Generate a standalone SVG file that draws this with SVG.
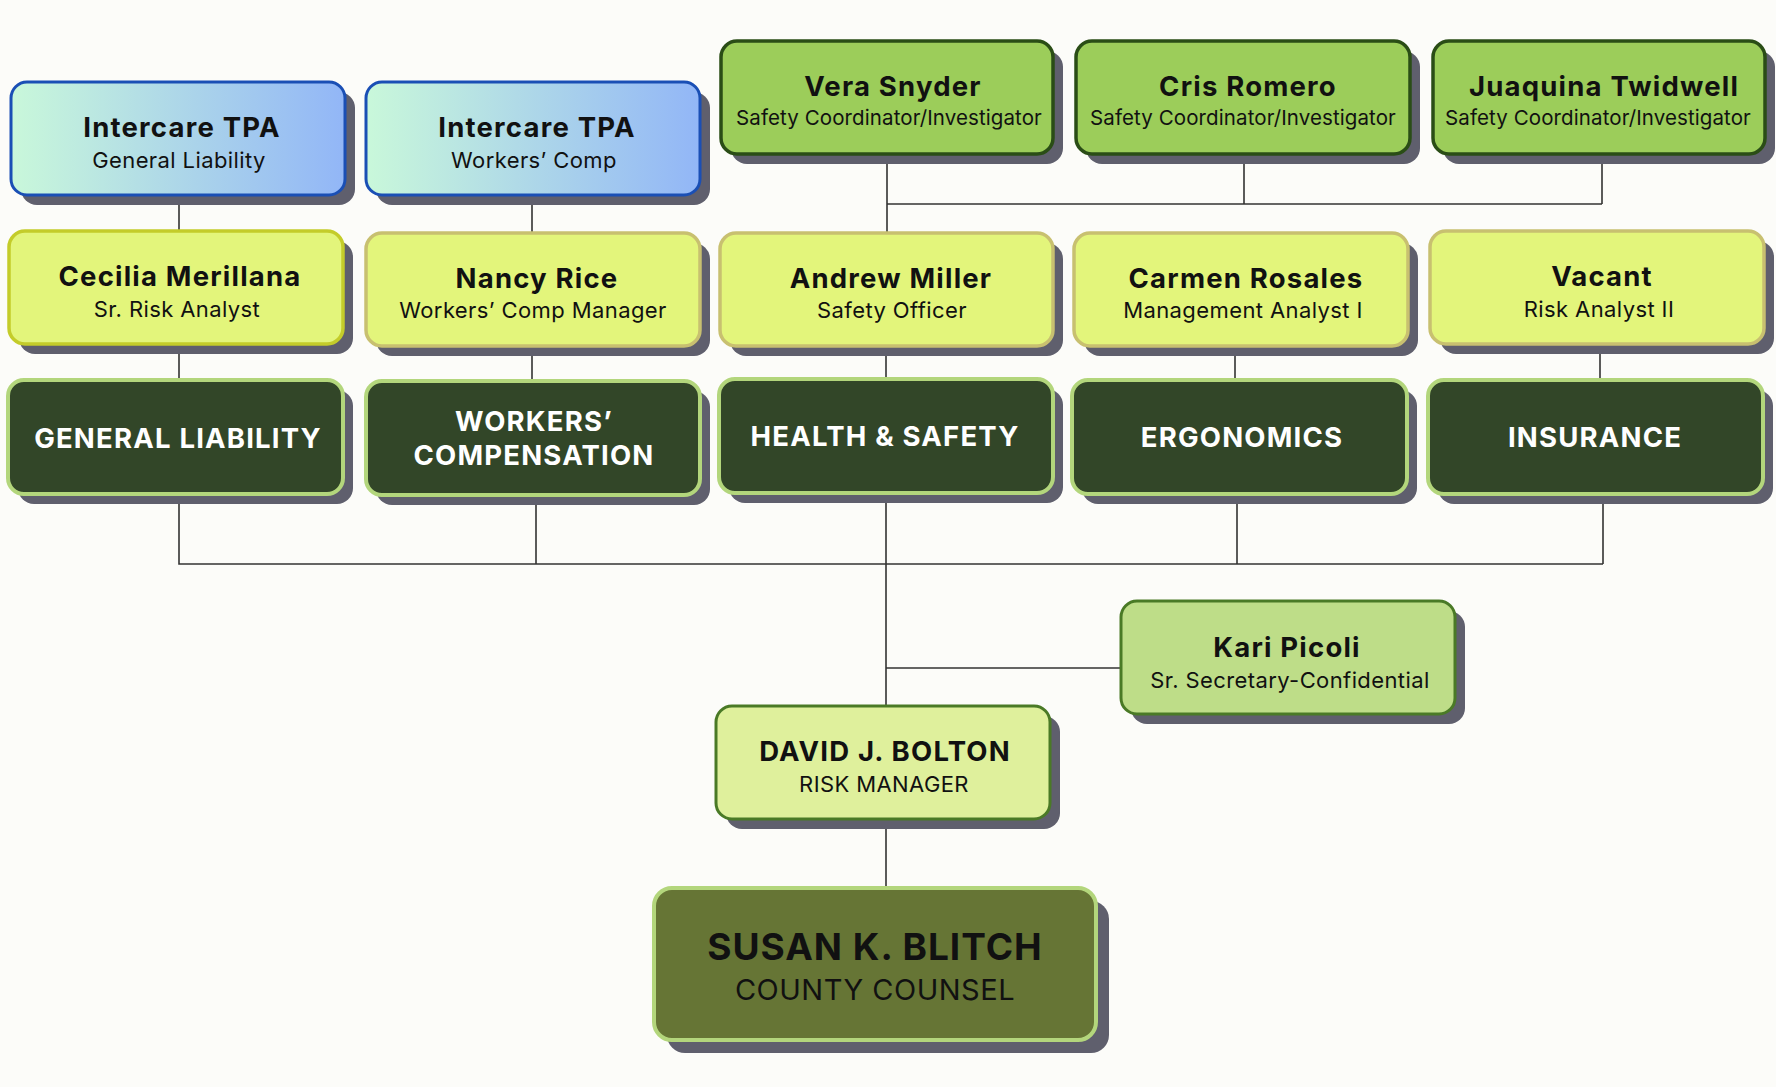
<svg xmlns="http://www.w3.org/2000/svg" width="1776" height="1087" viewBox="0 0 1776 1087">
<defs>
<linearGradient id="tpa" x1="0" y1="0" x2="1" y2="0">
<stop offset="0" stop-color="#c9f8da"/>
<stop offset="1" stop-color="#92b6f7"/>
</linearGradient>
<style>
.sh{fill:#5f5f6d}
.tpa{fill:url(#tpa);stroke:#1a4fb5;stroke-width:3}
.grn{fill:#9ccd5a;stroke:#2a4d16;stroke-width:3.5}
.yel{fill:#e3f57b;stroke:#c8c070;stroke-width:3.5}
.yel2{fill:#e3f57b;stroke:#c4cc2a;stroke-width:3.5}
.drk{fill:#324628;stroke:#b3d67c;stroke-width:4}
.kari{fill:#bedd88;stroke:#4a7a26;stroke-width:3}
.dav{fill:#dff09c;stroke:#4a7a26;stroke-width:3}
.sus{fill:#667535;stroke:#b3d67c;stroke-width:4}
text{font-family:Inter,"Noto Sans","Liberation Sans",sans-serif;text-anchor:middle;fill:#111}
.n{font-size:27.5px;font-weight:700;letter-spacing:1.2px}
.s{font-size:22px;font-weight:400;letter-spacing:0.4px}
.sc{font-size:20.5px;font-weight:400;letter-spacing:0.1px}
.d{font-size:27.5px;font-weight:700;fill:#fff;letter-spacing:1.2px}
.c{fill:none;stroke:#333;stroke-width:1.6}
</style>
</defs>
<rect width="1776" height="1087" fill="#fcfcf9"/>
<g id="connectors" class="c">
<path d="M179 195V231M532 195V233"/>
<path d="M887 154V233M887 204H1602M1244 154V204M1602 154V204"/>
<path d="M179 344V380M532 346V381M886 346V379M1235 346V380M1600 344V380"/>
<path d="M179 494V564H1603M536 495V564M1237 494V564M1603 494V564"/>
<path d="M886 493V706M886 668H1121M886 819V888"/>
</g>
<g id="tpa-gl"><rect class="sh" x="21" y="92" width="334" height="113" rx="16"/><rect class="tpa" x="11" y="82" width="334" height="113" rx="16"/><text class="n" x="182" y="137">Intercare TPA</text><text class="s" x="179" y="168">General Liability</text></g>
<g id="tpa-wc"><rect class="sh" x="376" y="92" width="334" height="113" rx="16"/><rect class="tpa" x="366" y="82" width="334" height="113" rx="16"/><text class="n" x="537" y="137">Intercare TPA</text><text class="s" x="534" y="168">Workers’ Comp</text></g>
<g id="vera"><rect class="sh" x="731" y="51" width="332" height="113" rx="16"/><rect class="grn" x="721" y="41" width="332" height="113" rx="16"/><text class="n" x="893" y="96">Vera Snyder</text><text class="sc" x="889" y="125">Safety Coordinator/Investigator</text></g>
<g id="cris"><rect class="sh" x="1086" y="51" width="334" height="113" rx="16"/><rect class="grn" x="1076" y="41" width="334" height="113" rx="16"/><text class="n" x="1248" y="96">Cris Romero</text><text class="sc" x="1243" y="125">Safety Coordinator/Investigator</text></g>
<g id="juaquina"><rect class="sh" x="1443" y="51" width="332" height="113" rx="16"/><rect class="grn" x="1433" y="41" width="332" height="113" rx="16"/><text class="n" x="1604" y="96">Juaquina Twidwell</text><text class="sc" x="1598" y="125">Safety Coordinator/Investigator</text></g>
<g id="cecilia"><rect class="sh" x="19" y="241" width="334" height="113" rx="16"/><rect class="yel2" x="9" y="231" width="334" height="113" rx="16"/><text class="n" x="180" y="286">Cecilia Merillana</text><text class="s" x="177" y="317">Sr. Risk Analyst</text></g>
<g id="nancy"><rect class="sh" x="376" y="243" width="334" height="113" rx="16"/><rect class="yel" x="366" y="233" width="334" height="113" rx="16"/><text class="n" x="537" y="288">Nancy Rice</text><text class="s" x="533" y="318">Workers’ Comp Manager</text></g>
<g id="andrew"><rect class="sh" x="730" y="243" width="333" height="113" rx="16"/><rect class="yel" x="720" y="233" width="333" height="113" rx="16"/><text class="n" x="891" y="288">Andrew Miller</text><text class="s" x="892" y="318">Safety Officer</text></g>
<g id="carmen"><rect class="sh" x="1084" y="243" width="334" height="113" rx="16"/><rect class="yel" x="1074" y="233" width="334" height="113" rx="16"/><text class="n" x="1246" y="288">Carmen Rosales</text><text class="s" x="1243" y="318">Management Analyst I</text></g>
<g id="vacant"><rect class="sh" x="1440" y="241" width="334" height="113" rx="16"/><rect class="yel" x="1430" y="231" width="334" height="113" rx="16"/><text class="n" x="1602" y="286">Vacant</text><text class="s" x="1599" y="317">Risk Analyst II</text></g>
<g id="dept-gl"><rect class="sh" x="18" y="390" width="335" height="114" rx="16"/><rect class="drk" x="8" y="380" width="335" height="114" rx="16"/><text class="d" x="178" y="448">GENERAL LIABILITY</text></g>
<g id="dept-wc"><rect class="sh" x="376" y="391" width="334" height="114" rx="16"/><rect class="drk" x="366" y="381" width="334" height="114" rx="16"/><text class="d" x="534" y="431">WORKERS’</text><text class="d" x="534" y="465">COMPENSATION</text></g>
<g id="dept-hs"><rect class="sh" x="729" y="389" width="334" height="114" rx="16"/><rect class="drk" x="719" y="379" width="334" height="114" rx="16"/><text class="d" x="885" y="446">HEALTH &amp; SAFETY</text></g>
<g id="dept-erg"><rect class="sh" x="1082" y="390" width="335" height="114" rx="16"/><rect class="drk" x="1072" y="380" width="335" height="114" rx="16"/><text class="d" x="1242" y="447">ERGONOMICS</text></g>
<g id="dept-ins"><rect class="sh" x="1438" y="390" width="335" height="114" rx="16"/><rect class="drk" x="1428" y="380" width="335" height="114" rx="16"/><text class="d" x="1595" y="447">INSURANCE</text></g>
<g id="kari"><rect class="sh" x="1131" y="611" width="334" height="113" rx="16"/><rect class="kari" x="1121" y="601" width="334" height="113" rx="16"/><text class="n" x="1287" y="657">Kari Picoli</text><text class="s" x="1290" y="688">Sr. Secretary-Confidential</text></g>
<g id="david"><rect class="sh" x="726" y="716" width="334" height="113" rx="16"/><rect class="dav" x="716" y="706" width="334" height="113" rx="16"/><text class="n" x="885" y="761">DAVID J. BOLTON</text><text class="s" x="884" y="792">RISK MANAGER</text></g>
<g id="susan"><rect class="sh" x="667" y="901" width="442" height="152" rx="18"/><rect class="sus" x="654" y="888" width="442" height="152" rx="18"/><text x="875" y="960" style="font-size:37px;font-weight:700;letter-spacing:1px">SUSAN K. BLITCH</text><text x="875" y="1000" style="font-size:29px;font-weight:400;letter-spacing:0.5px">COUNTY COUNSEL</text></g>
</svg>
